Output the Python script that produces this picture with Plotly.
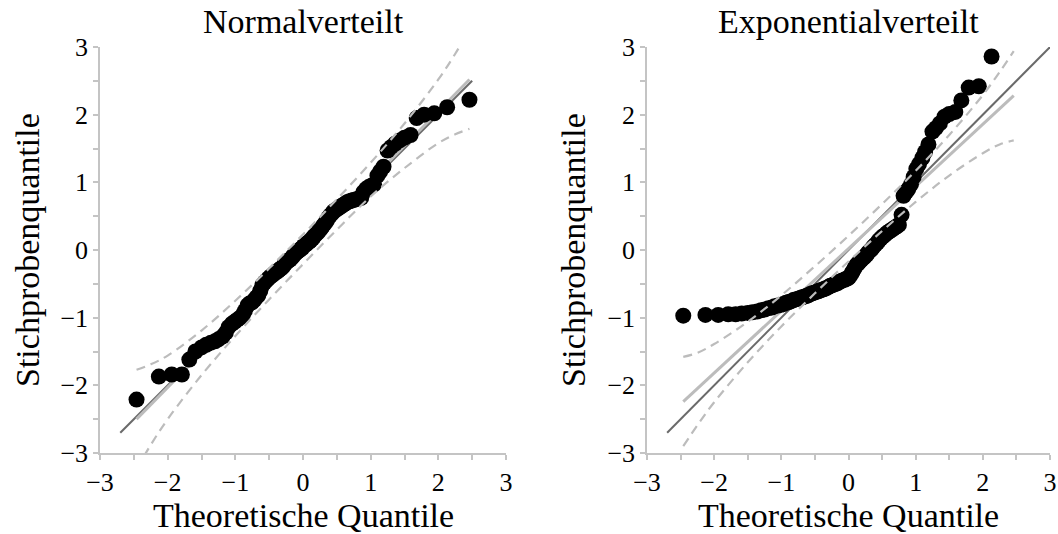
import plotly.graph_objects as go

# Theoretical normal quantiles (n = 100), negative half; the positive half mirrors it
q_neg = [-2.46, -2.13, -1.94, -1.79, -1.68, -1.59, -1.50, -1.43, -1.36, -1.30,
         -1.25, -1.19, -1.14, -1.10, -1.05, -1.01, -0.97, -0.93, -0.89, -0.86,
         -0.82, -0.79, -0.75, -0.72, -0.69, -0.66, -0.63, -0.60, -0.57, -0.54,
         -0.51, -0.48, -0.45, -0.43, -0.40, -0.37, -0.35, -0.32, -0.29, -0.27,
         -0.24, -0.22, -0.19, -0.16, -0.14, -0.11, -0.09, -0.06, -0.04, -0.01]
theo_q = q_neg + [-v for v in reversed(q_neg)]

# Sorted sample quantiles, normal sample
norm_sample = [-2.21, -1.87, -1.84, -1.84, -1.62, -1.50, -1.44, -1.40, -1.37, -1.35,
               -1.32, -1.28, -1.22, -1.14, -1.09, -1.06, -1.03, -1.00, -0.96, -0.90,
               -0.82, -0.79, -0.77, -0.74, -0.70, -0.67, -0.60, -0.52, -0.48, -0.45,
               -0.42, -0.39, -0.37, -0.35, -0.33, -0.31, -0.29, -0.27, -0.24, -0.21,
               -0.18, -0.16, -0.14, -0.11, -0.08, -0.05, -0.03, -0.01, 0.01, 0.03,
               0.06, 0.08, 0.10, 0.12, 0.14, 0.17, 0.20, 0.23, 0.26, 0.29,
               0.32, 0.35, 0.39, 0.43, 0.47, 0.51, 0.54, 0.57, 0.59, 0.61,
               0.63, 0.65, 0.67, 0.69, 0.71, 0.72, 0.73, 0.74, 0.75, 0.76,
               0.77, 0.85, 0.90, 0.93, 0.95, 0.97, 1.10, 1.16, 1.23, 1.47,
               1.52, 1.57, 1.62, 1.66, 1.70, 1.95, 2.00, 2.02, 2.11, 2.22]

# Sorted sample quantiles, exponential sample (largest value lies above the axis range)
expo_sample = [-0.97, -0.96, -0.96, -0.95, -0.95, -0.94, -0.93, -0.92, -0.91, -0.89,
               -0.88, -0.86, -0.85, -0.83, -0.82, -0.81, -0.80, -0.78, -0.77, -0.76,
               -0.74, -0.73, -0.72, -0.71, -0.70, -0.69, -0.68, -0.67, -0.65, -0.64,
               -0.63, -0.62, -0.61, -0.60, -0.59, -0.58, -0.57, -0.56, -0.54, -0.53,
               -0.52, -0.51, -0.50, -0.49, -0.47, -0.46, -0.45, -0.44, -0.43, -0.42,
               -0.40, -0.36, -0.32, -0.27, -0.23, -0.20, -0.18, -0.15, -0.12, -0.10,
               -0.07, -0.04, -0.01, 0.02, 0.05, 0.08, 0.11, 0.14, 0.17, 0.20,
               0.22, 0.25, 0.27, 0.29, 0.31, 0.33, 0.35, 0.37, 0.52, 0.80,
               0.86, 0.90, 0.97, 1.08, 1.20, 1.27, 1.36, 1.45, 1.56, 1.75,
               1.80, 1.87, 1.97, 2.01, 2.04, 2.21, 2.40, 2.42, 2.86]

# Reference line y = x and fitted lines (end points)
ref_norm_x = [-2.7, 2.5]
ref_expo_x = [-2.7, 3.0]
fit_x = [-2.46, 2.46]
fit_norm_y = [-2.50, 2.52]
fit_expo_y = [-2.24, 2.28]

# Pointwise confidence band
band_x = [-2.46, -2.25, -2.0, -1.5, -1.0, -0.5, 0.0, 0.5, 1.0, 1.5, 2.0, 2.25, 2.46]
norm_upper = [-1.77, -1.69, -1.56, -1.19, -0.75, -0.27, 0.23, 0.75, 1.29, 1.87, 2.52, 2.90, 3.26]
norm_lower = [-3.24, -2.88, -2.50, -1.85, -1.27, -0.73, -0.21, 0.30, 0.79, 1.21, 1.58, 1.71, 1.79]
expo_upper = [-1.58, -1.52, -1.39, -1.06, -0.67, -0.24, 0.21, 0.68, 1.17, 1.70, 2.29, 2.63, 2.94]
expo_lower = [-2.90, -2.59, -2.25, -1.66, -1.13, -0.64, -0.17, 0.28, 0.71, 1.10, 1.43, 1.56, 1.62]

titles = ["Normalverteilt", "Exponentialverteilt"]
x_title = "Theoretische Quantile"
y_title = "Stichprobenquantile"

FONT = "Liberation Serif, Times New Roman, serif"
DARK = "#6a6a6a"
LIGHT = "#bcbcbc"
AXIS = "#c4c4c4"

W, H = 1058, 534
dom_x = [[100 / W, 506 / W], [647 / W, 1050 / W]]
dom_y = [(H - 453) / H, (H - 47) / H]

fig = go.Figure()

panels = [
    (theo_q, norm_sample, ref_norm_x, fit_norm_y, norm_upper, norm_lower, "x", "y"),
    (theo_q[:len(expo_sample)], expo_sample, ref_expo_x, fit_expo_y, expo_upper, expo_lower, "x2", "y2"),
]

for qx, qy, rx, fy, up, lo, xa, ya in panels:
    fig.add_trace(go.Scatter(x=rx, y=rx, mode="lines", line=dict(color=DARK, width=2),
                             xaxis=xa, yaxis=ya, showlegend=False, hoverinfo="skip"))
    fig.add_trace(go.Scatter(x=fit_x, y=fy, mode="lines", line=dict(color=LIGHT, width=3),
                             xaxis=xa, yaxis=ya, showlegend=False, hoverinfo="skip"))
    fig.add_trace(go.Scatter(x=qx, y=qy, mode="markers",
                             marker=dict(color="black", size=16, line=dict(width=0)),
                             xaxis=xa, yaxis=ya, showlegend=False))
    for band in (up, lo):
        fig.add_trace(go.Scatter(x=band_x, y=band, mode="lines",
                                 line=dict(color=LIGHT, width=2.2, dash="9px,6px", shape="spline"),
                                 xaxis=xa, yaxis=ya, showlegend=False, hoverinfo="skip"))

axis_common = dict(
    range=[-3, 3], dtick=1, tick0=0, showgrid=False, zeroline=False,
    showline=True, linecolor=AXIS, linewidth=1.5,
    ticks="outside", ticklen=5, tickwidth=1.5, tickcolor=AXIS,
    minor=dict(dtick=0.5, tick0=0, ticks="outside", ticklen=5, tickwidth=1.5, tickcolor=AXIS),
    tickfont=dict(family=FONT, size=26, color="black"),
    automargin=False, fixedrange=True,
)

fig.update_layout(
    width=W, height=H,
    margin=dict(l=0, r=0, t=0, b=0, autoexpand=False),
    paper_bgcolor="white", plot_bgcolor="white",
    xaxis=dict(domain=dom_x[0], anchor="y", **axis_common),
    yaxis=dict(domain=dom_y, anchor="x", **axis_common),
    xaxis2=dict(domain=dom_x[1], anchor="y2", **axis_common),
    yaxis2=dict(domain=dom_y, anchor="x2", **axis_common),
)

ann = []
for i, (x0, x1) in enumerate(dom_x):
    cx = (x0 + x1) / 2
    ann.append(dict(text=titles[i], x=cx, y=(H - 22) / H, xref="paper", yref="paper",
                    xanchor="center", yanchor="middle", showarrow=False,
                    font=dict(family=FONT, size=34, color="black")))
    ann.append(dict(text=x_title, x=cx, y=(H - 515) / H, xref="paper", yref="paper",
                    xanchor="center", yanchor="middle", showarrow=False,
                    font=dict(family=FONT, size=34, color="black")))
yt_x = [27 / W, 573 / W]
for px in yt_x:
    ann.append(dict(text=y_title, x=px, y=(H - 250) / H, xref="paper", yref="paper",
                    xanchor="center", yanchor="middle", showarrow=False, textangle=-90,
                    font=dict(family=FONT, size=34, color="black")))
fig.update_layout(annotations=ann)

fig.write_html("out.html", config={"displayModeBar": False})
